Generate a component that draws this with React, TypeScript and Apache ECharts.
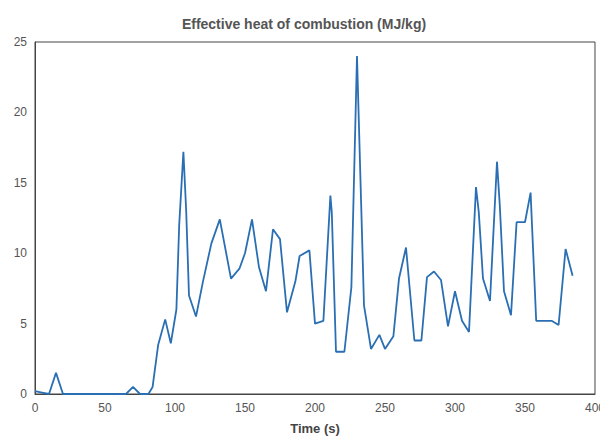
import React, { useEffect, useRef } from 'react'
import * as echarts from 'echarts'

const times = [0, 5, 10, 15, 20, 65, 70, 75, 81, 84, 88, 93, 97, 101, 103, 106, 108, 110, 115, 120, 126, 132, 140, 146, 150, 155, 160, 165, 170, 175, 180, 186, 189, 196, 200, 206, 211, 212, 215, 221, 226, 230, 233, 235, 240, 246, 250, 256, 260, 265, 271, 276, 280, 285, 290, 295, 300, 305, 310, 315, 317, 320, 325, 330, 332, 335, 340, 344, 350, 354, 358, 369, 374, 379, 384]
const heat = [0.2, 0.1, 0, 1.5, 0, 0, 0.5, 0, 0, 0.5, 3.5, 5.3, 3.6, 6, 12, 17.2, 13, 7, 5.5, 8, 10.7, 12.4, 8.2, 8.9, 10, 12.4, 9, 7.3, 11.7, 11, 5.8, 8, 9.8, 10.2, 5.0, 5.2, 14.1, 12.9, 3.0, 3.0, 7.6, 24, 13.4, 6.3, 3.2, 4.2, 3.2, 4.1, 8.2, 10.4, 3.8, 3.8, 8.3, 8.7, 8.1, 4.8, 7.3, 5.2, 4.4, 14.7, 12.9, 8.2, 6.6, 16.5, 13.4, 7.3, 5.6, 12.2, 12.2, 14.3, 5.2, 5.2, 4.9, 10.3, 8.4]

const App = () => {
    const chartRef = useRef<HTMLDivElement>(null)

    useEffect(() => {
        const chart = echarts.init(chartRef.current!, null, { renderer: 'svg' })
        chart.setOption({
            animation: false,
            title: {
                text: 'Effective heat of combustion (MJ/kg)',
                left: 'center',
                top: 4,
                textStyle: { fontSize: 14, fontWeight: 'bold', color: '#555', fontFamily: 'Liberation Sans' }
            },
            grid: { left: 35, right: 11, top: 34, bottom: 44, show: true, borderColor: '#444', borderWidth: 1 },
            xAxis: {
                type: 'value', min: 0, max: 400, interval: 50,
                name: 'Time (s)', nameLocation: 'middle', nameGap: 28,
                nameTextStyle: { fontSize: 13, fontWeight: 'bold', color: '#444', fontFamily: 'Liberation Sans' },
                axisLine: { lineStyle: { color: '#444' } },
                axisTick: { show: false },
                splitLine: { show: false },
                axisLabel: { color: '#555', fontSize: 12, margin: 8, fontFamily: 'Liberation Sans' }
            },
            yAxis: {
                type: 'value', min: 0, max: 25, interval: 5,
                axisLine: { show: true, lineStyle: { color: '#444' } },
                axisTick: { show: false },
                splitLine: { show: false },
                axisLabel: { color: '#555', fontSize: 12, margin: 8, fontFamily: 'Liberation Sans' }
            },
            series: [{
                type: 'line',
                data: times.map((t, i) => [t, heat[i]]),
                showSymbol: false,
                lineStyle: { color: '#2a6fb3', width: 1.8 }
            }]
        })
        return () => {
            chart.dispose()
        }
    }, [])

    return <div style={{ width: '608px', height: '432px', margin: '0 -8px' }} ref={chartRef}></div>
}
export default App
